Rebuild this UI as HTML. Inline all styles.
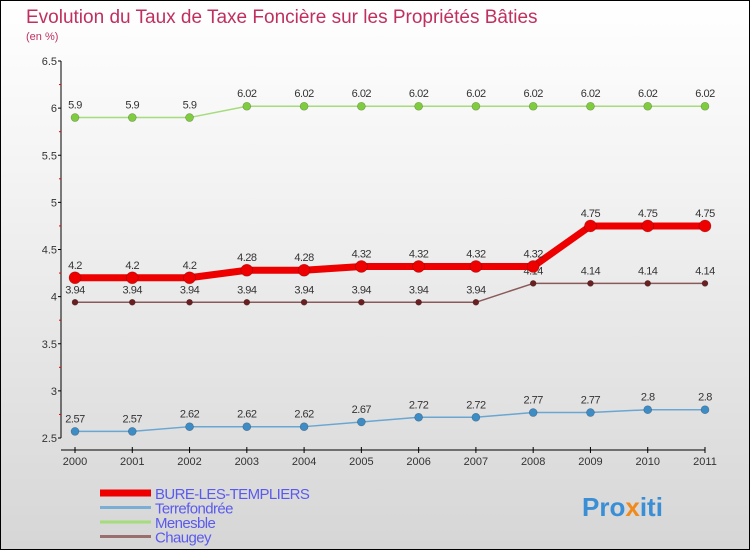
<!DOCTYPE html>
<html><head><meta charset="utf-8"><style>
body{margin:0}
#c{width:750px;height:550px;position:relative;font-family:"Liberation Sans",sans-serif;background:linear-gradient(#ffffff,#f4f4f4 30%,#d6d6d6);box-sizing:border-box;border:1px solid #000;overflow:hidden}
</style></head><body>
<div id="c">
<svg id="s" width="750" height="550" style="position:absolute;left:-1px;top:-1px">
<text x="26" y="23" font-size="19" fill="#c0305e">Evolution du Taux de Taxe Foncière sur les Propriétés Bâties</text>
<text x="26" y="40" font-size="11" fill="#c0305e">(en %)</text>
<g id="axes"></g><g id="series"></g><g id="legend"></g>
<text x="582" y="516" font-size="26" font-weight="bold" fill="#3a8ed6">Pro<tspan fill="#f08a1c">x</tspan>iti</text>
</svg>
</div>
<script>
const years=["2000","2001","2002","2003","2004","2005","2006","2007","2008","2009","2010","2011"];
const yTicks=[2.5,3,3.5,4,4.5,5,5.5,6,6.5];
const bure=[4.2,4.2,4.2,4.28,4.28,4.32,4.32,4.32,4.32,4.75,4.75,4.75];
const terre=[2.57,2.57,2.62,2.62,2.62,2.67,2.72,2.72,2.77,2.77,2.8,2.8];
const menes=[5.9,5.9,5.9,6.02,6.02,6.02,6.02,6.02,6.02,6.02,6.02,6.02];
const chaug=[3.94,3.94,3.94,3.94,3.94,3.94,3.94,3.94,4.14,4.14,4.14,4.14];
const NS="http://www.w3.org/2000/svg";
const X=i=>75+i*(630/11);
const Y=v=>61+(6.5-v)*94.25;
function mk(p,t,a){const e=document.createElementNS(NS,t);for(const k in a)e.setAttribute(k,a[k]);p.appendChild(e);return e;}
const ax=document.getElementById('axes'),sr=document.getElementById('series'),lg=document.getElementById('legend');
let l=mk(ax,'line',{x1:61,y1:61,x2:61,y2:438,stroke:'#000'});

l=mk(ax,'line',{x1:61,y1:450,x2:705,y2:450,stroke:'#000'});

yTicks.forEach((v,i)=>{
 mk(ax,'line',{x1:58,y1:Y(v),x2:61,y2:Y(v),stroke:'#000'});
 if(i<yTicks.length-1)mk(ax,'line',{x1:59,y1:Y(v+0.25),x2:61,y2:Y(v+0.25),stroke:'#e00'});
 const t=mk(ax,'text',{x:57,y:Y(v)+4,'font-size':11,'text-anchor':'end',fill:'#333'});t.textContent=String(v);
 
});
years.forEach((y,i)=>{
 mk(ax,'line',{x1:X(i),y1:447,x2:X(i),y2:453,stroke:'#000'});
 const t=mk(ax,'text',{x:X(i),y:465,'font-size':11,'text-anchor':'middle',fill:'#333'});t.textContent=y;
 
});
function series(d,col,w,r,name,dot){
 const g=mk(sr,'g',{});
 mk(g,'polyline',{points:d.map((v,i)=>X(i)+','+Y(v)).join(' '),fill:'none',stroke:col,'stroke-width':w,'stroke-linejoin':'round'});
 d.forEach((v,i)=>{
  const c=mk(g,'circle',{cx:X(i),cy:Y(v),r:r,fill:dot,stroke:'rgba(0,0,0,0.3)','stroke-width':0.6});
  
  const t=mk(g,'text',{x:X(i),y:Y(v)-9,'font-size':11,'text-anchor':'middle',fill:'#333','letter-spacing':'-0.5'});t.textContent=String(v);
  
 });
}
series(menes,'#a6dc7c',1.5,4,'menesble','#7fcc3e');
series(chaug,'#8a5a5a',1.5,3,'chaugey','#6a2020');
series(terre,'#6aa6d2',1.5,4,'terrefondree','#3d8cc6');
series(bure,'#ee0000',7,6,'bure-les-templiers','#ee0000');
const names=["BURE-LES-TEMPLIERS","Terrefondrée","Menesble","Chaugey"];
const cols=['#ee0000','#7aaed4','#a6dc7c','#9a6e6e'],ws=[7,3,3,3];
names.forEach((n,i)=>{
 const y=493+i*14.5;
 const g=mk(lg,'g',{});
 mk(g,'line',{x1:100,y1:y,x2:151,y2:y,stroke:cols[i],'stroke-width':ws[i]});
 const t=mk(g,'text',{x:155,y:y+6,'font-size':15,fill:'#5a5aee','letter-spacing':'-0.6'});t.textContent=n;
});
</script>
</body></html>
